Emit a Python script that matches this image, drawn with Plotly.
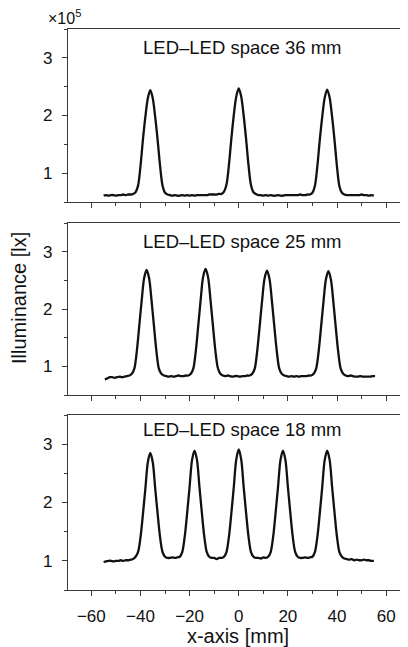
import numpy as np
import plotly.graph_objects as go

# ---------------- data ----------------
labels = ["LED\u2013LED space 36 mm", "LED\u2013LED space 25 mm", "LED\u2013LED space 18 mm"]

x36 = list(range(-55, 56))
y36 = [
    0.61, 0.62, 0.61, 0.62, 0.62, 0.61, 0.62, 0.62, 0.63, 0.62,   # -55..-46
    0.63, 0.63, 0.64, 0.67, 0.78, 1.12, 1.58, 1.98, 2.30, 2.44,   # -45..-36
    2.30, 1.97, 1.57, 1.12, 0.78, 0.66, 0.63, 0.62, 0.61, 0.62,   # -35..-26
    0.61, 0.61, 0.62, 0.61, 0.62, 0.61, 0.62, 0.61, 0.62, 0.62,   # -25..-16
    0.62, 0.62, 0.62, 0.63, 0.63, 0.63, 0.63, 0.64, 0.64, 0.68,   # -15..-6
    0.80, 1.14, 1.60, 2.01, 2.33, 2.47, 2.33, 2.00, 1.59, 1.13,   # -5..4
    0.79, 0.67, 0.64, 0.62, 0.62, 0.61, 0.62, 0.61, 0.62, 0.61,   # 5..14
    0.61, 0.62, 0.61, 0.61, 0.62, 0.62, 0.62, 0.62, 0.62, 0.62,   # 15..24
    0.63, 0.62, 0.62, 0.63, 0.63, 0.66, 0.78, 1.12, 1.58, 1.98,   # 25..34
    2.31, 2.45, 2.31, 1.98, 1.57, 1.11, 0.77, 0.66, 0.63, 0.62,   # 35..44
    0.62, 0.62, 0.62, 0.62, 0.62, 0.63, 0.62, 0.62, 0.61, 0.62,   # 45..54
    0.61,                                                         # 55
]

x25 = [v + 0.5 for v in range(-55, 56)]
y25 = [
    0.77, 0.79, 0.81, 0.81, 0.80, 0.81, 0.82, 0.81, 0.82, 0.83,   # -54.5..-45.5
    0.84, 0.87, 0.96, 1.26, 1.70, 2.15, 2.54, 2.68, 2.54, 2.15,   # -44.5..-35.5
    1.70, 1.26, 0.96, 0.87, 0.84, 0.83, 0.82, 0.83, 0.82, 0.83,   # -34.5..-25.5
    0.84, 0.83, 0.83, 0.84, 0.84, 0.87, 0.96, 1.26, 1.70, 2.16,   # -24.5..-15.5
    2.56, 2.70, 2.56, 2.16, 1.71, 1.27, 0.97, 0.87, 0.84, 0.83,   # -14.5..-5.5
    0.84, 0.83, 0.82, 0.83, 0.83, 0.82, 0.83, 0.83, 0.84, 0.84,   # -4.5..4.5
    0.87, 0.96, 1.26, 1.69, 2.14, 2.53, 2.67, 2.53, 2.14, 1.69,   # 5.5..14.5
    1.26, 0.96, 0.87, 0.84, 0.83, 0.82, 0.83, 0.82, 0.83, 0.82,   # 15.5..24.5
    0.83, 0.83, 0.83, 0.84, 0.84, 0.87, 0.96, 1.25, 1.68, 2.13,   # 25.5..34.5
    2.52, 2.66, 2.52, 2.13, 1.68, 1.25, 0.96, 0.87, 0.84, 0.83,   # 35.5..44.5
    0.84, 0.83, 0.82, 0.82, 0.83, 0.82, 0.82, 0.82, 0.82, 0.83,   # 45.5..54.5
    0.83,                                                         # 55.5
]

x18 = list(range(-55, 56))
y18 = [
    0.98, 0.99, 1.00, 1.00, 0.99, 1.00, 1.00, 1.01, 1.00, 1.01,   # -55..-46
    1.01, 1.02, 1.03, 1.07, 1.15, 1.40, 1.80, 2.24, 2.69, 2.85,   # -45..-36
    2.69, 2.24, 1.80, 1.40, 1.15, 1.07, 1.05, 1.05, 1.06, 1.05,   # -35..-26
    1.06, 1.07, 1.15, 1.41, 1.82, 2.27, 2.73, 2.89, 2.73, 2.27,   # -25..-16
    1.82, 1.41, 1.15, 1.07, 1.05, 1.05, 1.03, 1.05, 1.05, 1.07,   # -15..-6
    1.15, 1.41, 1.82, 2.27, 2.74, 2.91, 2.74, 2.27, 1.82, 1.41,   # -5..4
    1.15, 1.07, 1.05, 1.05, 1.04, 1.06, 1.05, 1.07, 1.15, 1.41,   # 5..14
    1.82, 2.27, 2.73, 2.89, 2.73, 2.27, 1.82, 1.41, 1.15, 1.07,   # 15..24
    1.05, 1.05, 1.06, 1.05, 1.06, 1.07, 1.15, 1.41, 1.82, 2.27,   # 25..34
    2.73, 2.89, 2.73, 2.27, 1.82, 1.41, 1.15, 1.07, 1.04, 1.03,   # 35..44
    1.02, 1.03, 1.01, 1.02, 1.01, 1.01, 1.02, 1.01, 1.01, 1.00,   # 45..54
    1.00,                                                         # 55
]

series = [(x36, y36), (x25, y25), (x18, y18)]
label_y = [3.18, 3.17, 3.25]

x_ticks = [-60, -40, -20, 0, 20, 40, 60]
y_ticks = [1, 2, 3]

# ---------------- layout ----------------
# the page body has an 8 px margin, so the figure is drawn 8 px smaller and
# all pixel positions below are in figure coordinates (window - 8)
W, H = 400, 639
top_m, bot_m = 21, 57
plot_h = H - top_m - bot_m
panels_px = [(21, 194), (215, 387), (407, 582)]
LEFT = 60
PW = W - LEFT


def dom(t, b):
    return [(H - bot_m - b) / plot_h, (H - bot_m - t) / plot_h]


FONT = "Liberation Sans, Arial, sans-serif"
AX = "#3a3a3a"

fig = go.Figure()
for i, (xs, ys) in enumerate(series):
    n = "" if i == 0 else str(i + 1)
    fig.add_trace(go.Scatter(
        x=xs, y=ys, mode="lines", xaxis="x" + n, yaxis="y" + n,
        line=dict(color="#111111", width=2.3, shape="spline", smoothing=0.9),
        showlegend=False, hoverinfo="skip"))

    fig.layout["xaxis" + n] = dict(
        domain=[0, 1], anchor="y" + n, range=[-69.5, 68.9],
        tickvals=x_ticks, ticktext=[("\u2212" + str(-v)) if v < 0 else str(v) for v in x_ticks],
        showticklabels=(i == 2), ticks="outside", ticklen=5, tickwidth=1.2, tickcolor=AX,
        minor=dict(dtick=10, tick0=0, ticks="outside", ticklen=3, tickwidth=1.2, tickcolor=AX),
        showline=True, linecolor=AX, linewidth=1.2, mirror=True,
        showgrid=False, zeroline=False, fixedrange=True,
        tickfont=dict(family=FONT, size=17, color="#111"),
        ticklabelstandoff=5,
    )
    fig.layout["yaxis" + n] = dict(
        domain=dom(*panels_px[i]), anchor="x" + n, range=[0.5, 3.5],
        tickvals=y_ticks, ticks="outside", ticklen=5, tickwidth=1.2, tickcolor=AX,
        minor=dict(dtick=0.5, tick0=0, ticks="outside", ticklen=3, tickwidth=1.2, tickcolor=AX),
        showline=True, linecolor=AX, linewidth=1.2, mirror=False,
        showgrid=False, zeroline=False, fixedrange=True,
        tickfont=dict(family=FONT, size=17, color="#111"),
        ticklabelstandoff=6,
    )
    fig.add_annotation(
        x=1.3, y=label_y[i], xref="x" + n, yref="y" + n, text=labels[i], showarrow=False,
        font=dict(family=FONT, size=18.5, color="#111"), xanchor="center", yanchor="middle")

fig.layout.xaxis3.title = dict(text="x-axis [mm]", font=dict(family=FONT, size=20, color="#111"), standoff=4)

fig.add_annotation(
    text="Illuminance [lx]", xref="paper", yref="paper", x=(11 - LEFT) / PW, y=(H - bot_m - 290) / plot_h,
    textangle=-90, showarrow=False, xanchor="center", yanchor="middle",
    font=dict(family=FONT, size=20, color="#111"))

fig.add_annotation(
    text="\u00d710<sup>5</sup>", xref="paper", yref="paper", x=(38 - LEFT) / PW, y=(H - bot_m - 9) / plot_h,
    showarrow=False, xanchor="left", yanchor="middle",
    font=dict(family=FONT, size=16, color="#111"))

fig.update_layout(
    width=W, height=H,
    margin=dict(l=LEFT, r=0, t=top_m, b=bot_m, pad=0),
    paper_bgcolor="white", plot_bgcolor="white",
)

fig.write_html("out.html", config={"displayModeBar": False})
